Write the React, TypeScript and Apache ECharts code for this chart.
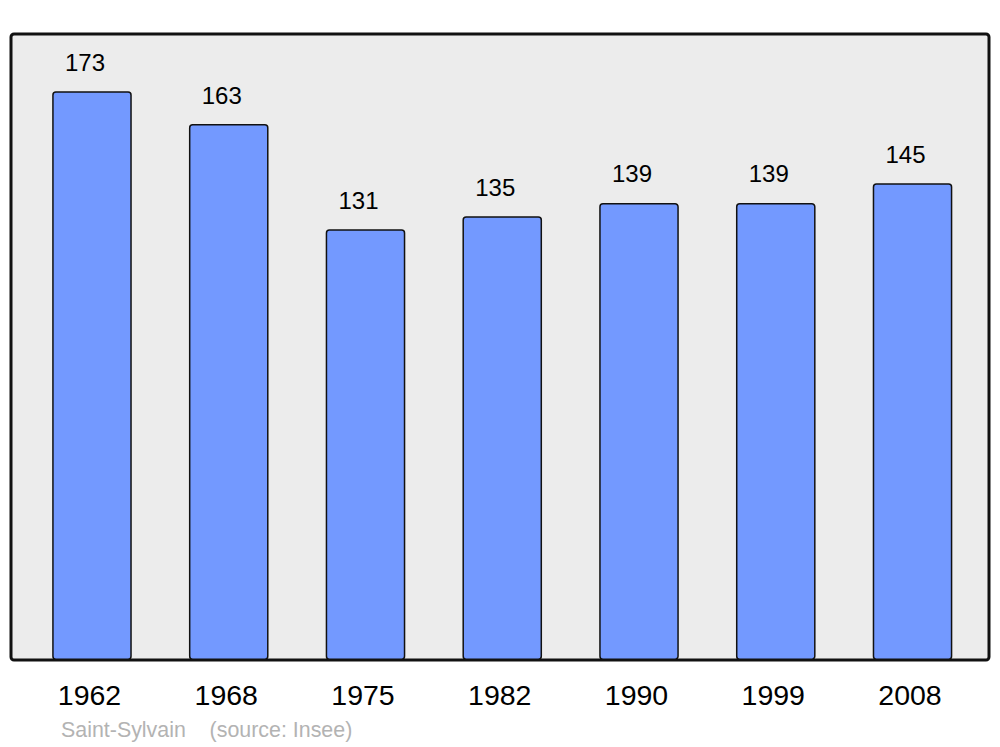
import React, { useEffect, useRef } from "react";
import * as echarts from "echarts";

const years = ["1962", "1968", "1975", "1982", "1990", "1999", "2008"];
const population = [173, 163, 131, 135, 139, 139, 145];
const sourceText = "Saint-Sylvain    (source: Insee)";

export default function App() {
  const ref = useRef<HTMLDivElement>(null);
  useEffect(() => {
    const chart = echarts.init(ref.current!, null, { renderer: "svg" });
    chart.setOption({
      animation: false,
      textStyle: { fontFamily: "Liberation Sans, Arial, sans-serif" },
      grid: { left: 23.6, top: 34, width: 957.3, height: 626, containLabel: false },
      graphic: [
        {
          type: "rect",
          z: -10,
          shape: { x: 11, y: 34, width: 978, height: 626, r: 3 },
          style: { fill: "#ececec", stroke: "#111", lineWidth: 3 },
        },
        {
          type: "text",
          x: 61,
          y: 730,
          style: {
            text: sourceText,
            fill: "#b3b3b3",
            fontSize: 21.4,
            fontFamily: "Liberation Sans, Arial, sans-serif",
            verticalAlign: "middle",
          },
        },
      ],
      xAxis: {
        type: "category",
        data: years,
        axisLine: { show: false },
        axisTick: { show: false },
        axisLabel: { fontSize: 28.5, color: "#000", margin: 20, padding: [0, 5, 0, 0] },
      },
      yAxis: {
        type: "value",
        min: 0,
        max: 190.4,
        show: false,
        splitLine: { show: false },
      },
      series: [
        {
          type: "bar",
          data: population,
          barWidth: "58.2%",
          itemStyle: { color: "#7399ff", borderColor: "#111", borderWidth: 1.5, borderRadius: 3 },
          label: {
            show: true,
            position: "top",
            distance: 17,
            offset: [-7, 0],
            fontSize: 24,
            color: "#000",
          },
        },
      ],
    });
    return () => chart.dispose();
  }, []);
  return (
    <div
      ref={ref}
      style={{ position: "fixed", left: 0, top: 0, width: 1000, height: 747, background: "#fff" }}
    />
  );
}
